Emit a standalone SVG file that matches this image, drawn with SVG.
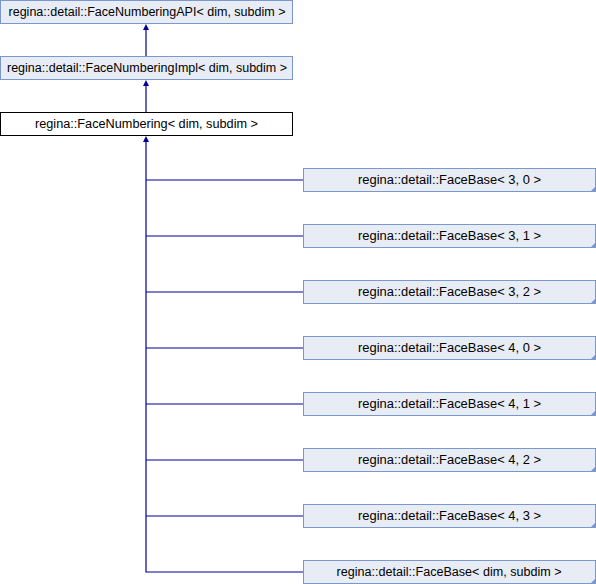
<svg xmlns="http://www.w3.org/2000/svg" width="596" height="584" viewBox="0 0 596 584">
<style>
.n{fill:#E8ECF5;stroke:#7B97CF;stroke-width:1}
.m{fill:#FFFFFF;stroke:#000000;stroke-width:1}
.f{fill:#7B97CF;stroke:none}
text{font-family:"Liberation Sans",Arial,sans-serif;font-size:12.5px;fill:#000;text-anchor:middle}
.e{fill:none;stroke:#000099;stroke-width:1.2}
.h{fill:#000099}
</style>
<rect width="596" height="584" fill="#fff"/>
<g id="connectors">
<line class="e" x1="146" y1="30" x2="146" y2="57"/>
<polygon class="h" points="146,24 149,30 143,30"/>
<line class="e" x1="146" y1="86" x2="146" y2="112"/>
<polygon class="h" points="146,80 149,86 143,86"/>
<polyline class="e" points="146,142 146,572 303,572"/>
<polygon class="h" points="146,136 149,142 143,142"/>
<line class="e" x1="146" y1="180" x2="303" y2="180"/>
<line class="e" x1="146" y1="236" x2="303" y2="236"/>
<line class="e" x1="146" y1="292" x2="303" y2="292"/>
<line class="e" x1="146" y1="348" x2="303" y2="348"/>
<line class="e" x1="146" y1="404" x2="303" y2="404"/>
<line class="e" x1="146" y1="460" x2="303" y2="460"/>
<line class="e" x1="146" y1="516" x2="303" y2="516"/>
</g>
<g id="n_api"><rect class="n" x="0.5" y="0.5" width="292" height="23"/><text x="147" y="16" textLength="277" lengthAdjust="spacingAndGlyphs">regina::detail::FaceNumberingAPI&lt; dim, subdim &gt;</text></g>
<g id="n_impl"><rect class="n" x="0.5" y="56.5" width="292" height="23"/><text x="147" y="72" textLength="280" lengthAdjust="spacingAndGlyphs">regina::detail::FaceNumberingImpl&lt; dim, subdim &gt;</text></g>
<g id="n_fn"><rect class="m" x="0.5" y="112.5" width="292" height="23"/><text x="146.5" y="128" textLength="223" lengthAdjust="spacingAndGlyphs">regina::FaceNumbering&lt; dim, subdim &gt;</text></g>
<g id="n_fb30"><rect class="n" x="303.5" y="168.5" width="292" height="23"/><polygon class="f" points="596,186 596,192 590,192"/><text x="449.5" y="184" textLength="183" lengthAdjust="spacingAndGlyphs">regina::detail::FaceBase&lt; 3, 0 &gt;</text></g>
<g id="n_fb31"><rect class="n" x="303.5" y="224.5" width="292" height="23"/><polygon class="f" points="596,242 596,248 590,248"/><text x="449.5" y="240" textLength="183" lengthAdjust="spacingAndGlyphs">regina::detail::FaceBase&lt; 3, 1 &gt;</text></g>
<g id="n_fb32"><rect class="n" x="303.5" y="280.5" width="292" height="23"/><polygon class="f" points="596,298 596,304 590,304"/><text x="449.5" y="296" textLength="183" lengthAdjust="spacingAndGlyphs">regina::detail::FaceBase&lt; 3, 2 &gt;</text></g>
<g id="n_fb40"><rect class="n" x="303.5" y="336.5" width="292" height="23"/><polygon class="f" points="596,354 596,360 590,360"/><text x="449.5" y="352" textLength="183" lengthAdjust="spacingAndGlyphs">regina::detail::FaceBase&lt; 4, 0 &gt;</text></g>
<g id="n_fb41"><rect class="n" x="303.5" y="392.5" width="292" height="23"/><polygon class="f" points="596,410 596,416 590,416"/><text x="449.5" y="408" textLength="183" lengthAdjust="spacingAndGlyphs">regina::detail::FaceBase&lt; 4, 1 &gt;</text></g>
<g id="n_fb42"><rect class="n" x="303.5" y="448.5" width="292" height="23"/><polygon class="f" points="596,466 596,472 590,472"/><text x="449.5" y="464" textLength="183" lengthAdjust="spacingAndGlyphs">regina::detail::FaceBase&lt; 4, 2 &gt;</text></g>
<g id="n_fb43"><rect class="n" x="303.5" y="504.5" width="292" height="23"/><polygon class="f" points="596,522 596,528 590,528"/><text x="449.5" y="520" textLength="183" lengthAdjust="spacingAndGlyphs">regina::detail::FaceBase&lt; 4, 3 &gt;</text></g>
<g id="n_fbds"><rect class="n" x="303.5" y="560.5" width="292" height="23"/><polygon class="f" points="596,578 596,584 590,584"/><text x="449" y="576" textLength="225" lengthAdjust="spacingAndGlyphs">regina::detail::FaceBase&lt; dim, subdim &gt;</text></g>
</svg>
